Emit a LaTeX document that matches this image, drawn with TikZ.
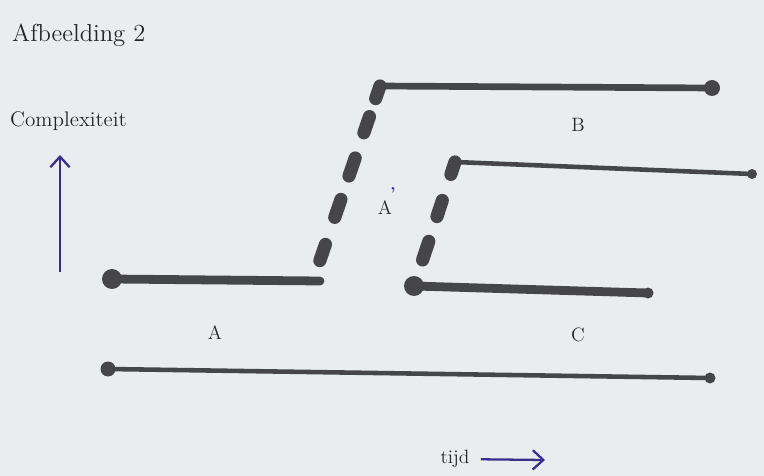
\documentclass[tikz,border=0pt]{standalone}
\usepackage{tikz}
\usetikzlibrary{calc,arrows.meta}

\definecolor{paper}{RGB}{233,237,240}
\definecolor{ink}{RGB}{70,70,74}
\definecolor{pen}{RGB}{60,45,140}

\tikzset{
  thickline/.style={ink, line width=5pt, line cap=round},
  midline/.style={ink, line width=3.8pt, line cap=round},
  thinline/.style={ink, line width=2.6pt, line cap=round},
  dashline/.style={ink, line width=7.5pt, line cap=round},
  blob/.style={circle, fill=ink, inner sep=0pt, minimum size=#1},
  penarrow/.style={pen, line width=1.3pt, -{Straight Barb[length=6pt,width=11pt]}},
  lbl/.style={text=black!85, font=\fontsize{11pt}{13pt}\selectfont}
}

\begin{document}
\begin{tikzpicture}[x=0.02cm, y=-0.02cm]
    % Paper
    \fill[paper] (0,0) rectangle (764,476);

    % Title and axis texts
    \node[anchor=west, text=black!85, font=\fontsize{14pt}{16pt}\selectfont] (title) at (6,35) {Afbeelding 2};
    \node[anchor=west, text=black!85, font=\fontsize{12pt}{14pt}\selectfont] (complex) at (4,121) {Complexiteit};
    \node[lbl] (tijd) at (455,459) {tijd};

    % Pen arrows
    \coordinate (up0) at (60,272);
    \coordinate (up1) at (60,155);
    \coordinate (tijdend) at (545,460);
    \draw[penarrow] (up0) -- (up1);
    \draw[penarrow, shorten <=3pt] (tijd) -- (tijdend);

    % Line A
    \coordinate (a0) at (112,279);
    \coordinate (a1) at (320,281);
    \draw[thickline] (a0) -- (a1);
    \node[blob=20*0.02cm] (adot) at (a0) {};

    % Line B with its dashed rise
    \coordinate (p0) at (318,266);
    \coordinate (p1) at (380,86);
    \coordinate (b1) at (712,88);
    \foreach \s/\e in {0.03/0.12, 0.27/0.37, 0.50/0.60, 0.74/0.83, 0.93/1} {
        \draw[dashline] ($(p0)!\s!(p1)$) -- ($(p0)!\e!(p1)$);
    }
    \draw[midline] (p1) -- (b1);
    \node[blob=16*0.02cm] (bdot) at (b1) {};

    % Line C with its dashed rise
    \coordinate (q0) at (414,286);
    \coordinate (q1) at (455,162);
    \coordinate (c1) at (648,293);
    \coordinate (e1) at (752,174);
    \foreach \s/\e in {0.21/0.36, 0.56/0.69, 0.90/1} {
        \draw[dashline] ($(q0)!\s!(q1)$) -- ($(q0)!\e!(q1)$);
    }
    \draw[thinline] (q1) -- (e1);
    \node[blob=10*0.02cm] (edot) at (e1) {};
    \draw[thickline] (q0) -- (c1);
    \node[blob=20*0.02cm] (cdot) at (q0) {};
    \node[blob=11*0.02cm] (cend) at (c1) {};

    % Bottom line
    \coordinate (d0) at (108,369);
    \coordinate (d1) at (710,378);
    \draw[thinline] (d0) -- (d1);
    \node[blob=15*0.02cm] (ddot) at (d0) {};
    \node[blob=11*0.02cm] (dend) at (d1) {};

    % Letters
    \node[lbl] (labA) at (215,333) {A};
    \node[lbl] (labB) at (578,125) {B};
    \node[lbl] (labC) at (578,335) {C};
    \node[lbl] (labAp) at (385,208) {A};
    \node[pen, font=\fontsize{9pt}{10pt}\selectfont\bfseries] (prime) at (393,193) {'};
\end{tikzpicture}
\end{document}
